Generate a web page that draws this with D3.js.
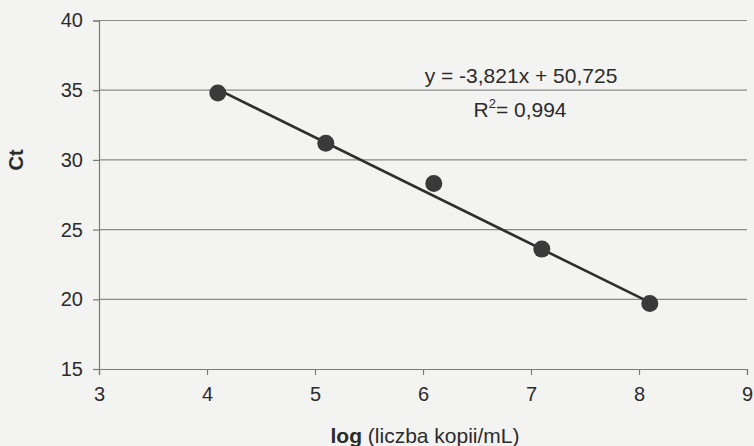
<!DOCTYPE html>
<html>
<head>
<meta charset="utf-8">
<script src="https://cdn.jsdelivr.net/npm/d3@7"></script>
<style>
  body { margin: 0; background: #f3f3f2; }
  text { font-family: "Liberation Sans", Arial, sans-serif; fill: #2b2b2b; }
</style>
</head>
<body>
<div id="chart"></div>
<script>
var logCopies = [4.1, 5.1, 6.1, 7.1, 8.1];
var ctValues = [34.8, 31.2, 28.3, 23.6, 19.7];
var slope = -3.821, intercept = 50.725;
var xTicks = [3, 4, 5, 6, 7, 8, 9];
var yTicks = [15, 20, 25, 30, 35, 40];

function main() {
    var width = 754, height = 446;
    var svg = d3.select("#chart").append("svg")
        .attr("width", width).attr("height", height);
    svg.append("rect").attr("width", width).attr("height", height).attr("fill", "#f3f3f2");

    var x = d3.scaleLinear().domain([3, 9]).range([99, 747]);
    var y = d3.scaleLinear().domain([15, 40]).range([369, 20.5]);

    // grid lines
    svg.append("g").selectAll("line").data(yTicks.slice(1)).enter().append("line")
        .attr("x1", x(3)).attr("x2", x(9))
        .attr("y1", function(d){return y(d);}).attr("y2", function(d){return y(d);})
        .attr("stroke", "#8a8a8a").attr("stroke-width", 1.2);

    var xAxis = svg.append("g").attr("transform", "translate(0," + y(15) + ")")
        .call(d3.axisBottom(x).tickValues(xTicks).tickSize(6).tickPadding(12).tickFormat(d3.format("d")));
    var yAxis = svg.append("g").attr("transform", "translate(" + x(3) + ",0)")
        .call(d3.axisLeft(y).tickValues(yTicks).tickSize(6).tickPadding(10).tickFormat(d3.format("d")));
    [xAxis, yAxis].forEach(function(a){
        a.select(".domain").attr("stroke", "#7a7a7a").attr("stroke-width", 1.2);
        a.selectAll(".tick line").attr("stroke", "#7a7a7a").attr("stroke-width", 1.2);
        a.selectAll("text").style("font-size", "20px").attr("fill", "#2b2b2b");
    });

    // trend line
    var xmin = d3.min(logCopies), xmax = d3.max(logCopies);
    svg.append("line")
        .attr("x1", x(xmin)).attr("y1", y(slope * xmin + intercept))
        .attr("x2", x(xmax)).attr("y2", y(slope * xmax + intercept))
        .attr("stroke", "#2e2e2e").attr("stroke-width", 2.6);

    svg.append("g").selectAll("circle").data(logCopies).enter().append("circle")
        .attr("cx", function(d){return x(d);})
        .attr("cy", function(d, i){return y(ctValues[i]);})
        .attr("r", 8.5).attr("fill", "#3a3a3a");

    // equation
    svg.append("text").attr("x", 521).attr("y", 83).attr("text-anchor", "middle")
        .style("font-size", "21px").text("y = -3,821x + 50,725");
    var r2 = svg.append("text").attr("x", 520).attr("y", 117).attr("text-anchor", "middle")
        .style("font-size", "21px");
    r2.append("tspan").text("R");
    r2.append("tspan").attr("dy", -9).style("font-size", "13px").text("2");
    r2.append("tspan").attr("dy", 9).text("= 0,994");

    // axis titles
    svg.append("text").attr("transform", "translate(23,160) rotate(-90)")
        .attr("text-anchor", "middle").style("font-size", "20px").style("font-weight", "bold").text("Ct");
    var xl = svg.append("text").attr("x", 425).attr("y", 443).attr("text-anchor", "middle")
        .style("font-size", "21px");
    xl.append("tspan").style("font-weight", "bold").text("log");
    xl.append("tspan").text(" (liczba kopii/mL)");
}
main();
</script>
</body>
</html>
